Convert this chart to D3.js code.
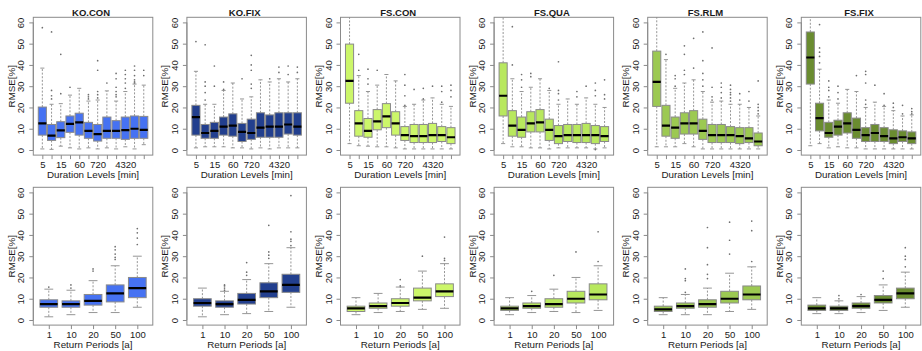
<!DOCTYPE html>
<html>
<head>
<meta charset="utf-8">
<script src="https://cdn.jsdelivr.net/npm/d3@7"></script>
<style>
  body { margin: 0; background: #fff; }
  svg { display: block; }
  text { font-family: "Liberation Sans", Arial, Helvetica, sans-serif; fill: #1a1a1a; }
</style>
</head>
<body>
<svg id="chart" width="922" height="351"></svg>
<script>
// Methods (one column each) and their box fills
const methods = ["KO.CON", "KO.FIX", "FS.CON", "FS.QUA", "FS.RLM", "FS.FIX"];
const methodColors = ["#4672f2", "#223f8e", "#ccf66a", "#b8e85e", "#9cc952", "#6a8c30"];

// Category axes
const durationLevels = ["5", "10", "15", "30", "60", "180", "720", "1440", "2880", "4320", "5760", "8640"];
const durationTickLabels = ["5", "15", "60", "720", "4320"];
const returnPeriods = ["1", "10", "20", "50", "100"];
const yTicks = [0, 10, 20, 30, 40, 50, 60];

// Box statistics per category: [lower whisker, Q1, median, Q3, upper whisker]
// and the outlying points, RMSE in %
const koConDur = [[0.5,7,12.5,20.2,38.5],[0.3,4.5,6.8,12,21.5],[1.8,5.8,9.2,13.3,21.8],[1,8.3,12.3,16,25.8],[0.5,7,13,17.3,29],[1,5.5,9,13,23],[0.5,4.2,7.5,12,23.5],[1,5.5,9,15.5,27.8],[0.5,5.5,9,13.8,23],[1.5,5,9.3,15.5,27.5],[0.5,5.5,10,16,31],[2.5,5.5,9.5,15.8,30.5]];
const koConDurOut = [[57.5],[24,25.5,28,55.5],[26.5,45],[29.5],[],[24,25,26],[24.5,26,27.5,37.5,42],[31.5],[25,26,27.5,29.5,33.5,36],[29,31.5,33.5,35.5,37.5],[31.5,32,33,35,37.5,39.5],[35,37.5]];

const koFixDur = [[1,7,15.5,21,37],[1.5,5.5,8,12,21.5],[1.5,5.5,9,13,21.5],[1.5,7,11,15.5,28],[1,6.5,11.5,17,31.5],[1,4,8.5,12.5,24],[0.5,5,8,14.5,25],[1,6,10.5,17.5,33],[0.5,6,11,16.5,32],[1,6,11,17.5,33.5],[1,7.5,12,17.5,32],[1,7,11,17.5,33.5]];
const koFixDurOut = [[51],[23.5,27,30,32,49.5],[30,39.5],[28.5,32],[],[33.5],[29,31,37.5,40,44.5],[],[33.5],[36.5,39],[35.5,39.5],[36.5,39]];

const fsConDur = [[3,22,32.5,49.8,66],[2,6.5,12.5,18.5,35],[1.8,6,9,14.8,27.5],[1.5,9.5,13.5,19,30.5],[1.5,10.5,15.8,21.8,35.5],[1,7,12.5,18,32.5],[0.5,4.5,7,11,20.5],[0.5,3.5,6.5,12,21.5],[0.5,3.5,6.5,12,23.5],[0.5,3.5,7,12.5,24.5],[0.5,4,7,11,21.5],[0.5,3,6,10.5,20.5]];
const fsConDurOut = [[],[37.5,45],[31,33.5,38],[37.5],[],[],[21,25.5,30.5,35.5],[28.5],[24,29],[30],[22.5,27.5,30],[25,28,30.5]];

const fsQuaDur = [[3,16,25.5,41,66],[1.5,6.5,11.5,18.5,33.5],[1.5,6,9.5,15.5,27.5],[1,8.5,12.5,18,29.5],[1,8.5,13,19,33.5],[0.5,4.5,9.5,14.5,28],[1,3,6.5,11.5,21.5],[1,4,7,12,24],[1,3.5,7,12,21.5],[1,3.5,7,12.5,24.5],[0.5,3,7,11.5,21.5],[1,4,6.5,11,20]];
const fsQuaDurOut = [[],[40,58],[29.5,33,35.5],[34.5,36],[],[29],[23.5,26.5,28,41.5],[],[25,27.5],[30],[0.2,25.5,28,31.5],[24,26,33]];

const fsRlmDur = [[1.5,20.5,32,46.5,66],[1.5,6.5,11.5,21,42.5],[1.5,5.5,10.5,15.5,29],[3,7.5,12.5,17.5,31.5],[1.5,7.5,12.5,18.5,33],[0.5,5,9,14.5,27.5],[0.5,3.5,7,12,22.5],[0.5,3.5,7,12,23],[0.5,3.5,7,11,21.5],[0.5,3,6.5,10.5,21.5],[0.5,3.5,5.5,10.5,20],[0.5,2,4,8,16]];
const fsRlmDurOut = [[],[45],[30,33.5,35],[35.5,37.5,45,49],[38.5,52.5],[30,33,36,42,55.5],[23.5,25,29.5,48],[24.5,27,29.5,31.5],[23,24.5,26,27,28.5,30.5],[23.5,26.5],[23,27.5],[17,18.5,20,21.5,32.5]];

const fsFixDur = [[2,31,43.5,55.5,66],[3,9,15,22,38],[1,6,8,13,23.5],[1.5,7,11,14,22],[1,8,12.5,17.5,28.5],[1,5.5,9.5,15,27.5],[0.5,4,7,10.5,20],[0.5,4,8,12,22.5],[0.5,4,6.5,10.5,20.5],[0.5,3,5.5,9.5,18.5],[0.5,4,6,9,16],[0.5,3,5.5,8.5,16.5]];
const fsFixDurOut = [[],[41,44,46,48,59],[25,28,29.5,32.5],[24,27,30],[],[35],[21.5,23.5,31.5,35.5,37],[30.5],[21,26.5],[20,22],[17,21],[17,18,19.5]];

const koConRp = [[1.5,6,7.5,9.5,14.5],[2.5,6,7.5,9,14],[3.5,7,9,12,18.5],[3.5,8.5,12.5,16.5,25.5],[6,10.5,15,20,30]];
const koConRpOut = [[15.5],[15,16.5],[23,24],[28.5,29.5,31,33,34.5],[35.5,38.5,41,43]];

const koFixRp = [[1.5,6.5,8,10,15],[2.5,6,7.5,9,13.5],[3,7.5,9.5,12.5,19],[4,10.5,13.5,17.5,26.5],[6,13,16.5,21.5,34]];
const koFixRpOut = [[],[14,15,16,16.5],[21,22.5,27],[29,30.5,32,44.5],[35,37,38,41.5,58.5]];

const fsConRp = [[2.5,4,5.5,6.5,10.5],[3.5,5.5,6.5,8,12.5],[4,6.5,8,10,15.5],[5,9,10.5,15,23],[5.5,11,13.5,17,26.5]];
const fsConRpOut = [[],[],[16,19],[30],[28,29,39]];

const fsQuaRp = [[2.5,4.5,5.5,6.5,10.5],[3.5,5.5,6.5,8,11.5],[4,6,7.5,10,14.5],[3.5,8,10,13.5,20],[4.5,9.5,12,17,25.5]];
const fsQuaRpOut = [[],[13.5],[21],[32],[27.5,41.5]];

const fsRlmRp = [[2.5,4,5,6.5,10.5],[2.5,5.5,6.5,8,12],[2.5,6,7.5,9.5,15],[4,8,10,13.5,22],[5,9.5,12,16,25]];
const fsRlmRpOut = [[],[13,18.5,19.5,24],[19.5,21.5,26,34,43.5],[31,37.5,46],[27.5,42,46.5]];

const fsFixRp = [[3,4.5,5.5,7,10.5],[3,4.5,5.5,6.5,9],[3.5,5.5,6.5,8,11],[4.5,8,9.5,11.5,16.5],[6,10,12.5,15,22.5]];
const fsFixRpOut = [[],[10,11.5],[12],[19.5,23],[25,28.5,30,34]];

const durationPanels = [
  [koConDur, koConDurOut], [koFixDur, koFixDurOut], [fsConDur, fsConDurOut],
  [fsQuaDur, fsQuaDurOut], [fsRlmDur, fsRlmDurOut], [fsFixDur, fsFixDurOut]
];
const returnPanels = [
  [koConRp, koConRpOut], [koFixRp, koFixRpOut], [fsConRp, fsConRpOut],
  [fsQuaRp, fsQuaRpOut], [fsRlmRp, fsRlmRpOut], [fsFixRp, fsFixRpOut]
];

// Layout
const panelStep = 153.6, frameLeft0 = 33.3, frameW = 119.5;
const rowTop = [17.3, 187.3], frameH = 137.8;
const gray = "#8a8a8a";
const fontFamily = "'Liberation Sans', Arial, sans-serif";

const svg = d3.select("#chart");
const defs = svg.append("defs");

function drawPanel(idx, row, categories, shownLabels, stats, outliers, color, xTitle, title, boxwex) {
  const left = frameLeft0 + panelStep * idx;
  const top = rowTop[row];
  const n = categories.length;
  const pad = 0.04 * n;
  const x = d3.scaleLinear().domain([0.5 - pad, n + 0.5 + pad]).range([left, left + frameW]);
  const y = d3.scaleLinear().domain([-2.4, 62.4]).range([top + frameH, top]);
  const bw = x(1 + boxwex / 2) - x(1); // half box width
  const clipId = `clip-${row}-${idx}`;
  defs.append("clipPath").attr("id", clipId)
    .append("rect").attr("x", left).attr("y", top).attr("width", frameW).attr("height", frameH);

  const g = svg.append("g");
  const plot = g.append("g").attr("clip-path", `url(#${clipId})`);

  stats.forEach((s, i) => {
    const cx = x(i + 1);
    const [lo, q1, med, q3, hi] = s;
    const bg = plot.append("g");
    // whiskers
    bg.append("line").attr("x1", cx).attr("x2", cx).attr("y1", y(q3)).attr("y2", y(hi))
      .attr("stroke", gray).attr("stroke-width", 0.9).attr("stroke-dasharray", "2,1.6");
    bg.append("line").attr("x1", cx).attr("x2", cx).attr("y1", y(q1)).attr("y2", y(lo))
      .attr("stroke", gray).attr("stroke-width", 0.9).attr("stroke-dasharray", "2,1.6");
    // staples
    [lo, hi].forEach(v => {
      bg.append("line").attr("x1", cx - bw * 0.5).attr("x2", cx + bw * 0.5)
        .attr("y1", y(v)).attr("y2", y(v)).attr("stroke", gray).attr("stroke-width", 0.9);
    });
    // box
    bg.append("rect").attr("x", cx - bw).attr("width", 2 * bw)
      .attr("y", y(q3)).attr("height", y(q1) - y(q3))
      .attr("fill", color).attr("stroke", gray).attr("stroke-width", 1);
    // median
    bg.append("line").attr("x1", cx - bw).attr("x2", cx + bw)
      .attr("y1", y(med)).attr("y2", y(med)).attr("stroke", "#000").attr("stroke-width", 2.2);
    // outliers
    outliers[i].forEach(v => {
      bg.append("circle").attr("cx", cx).attr("cy", y(v)).attr("r", 0.85).attr("fill", "#6f6f6f");
    });
  });

  // frame
  g.append("rect").attr("x", left).attr("y", top).attr("width", frameW).attr("height", frameH)
    .attr("fill", "none").attr("stroke", gray).attr("stroke-width", 1);

  // x axis
  const xAxis = d3.axisBottom(x)
    .tickValues(d3.range(1, n + 1))
    .tickSize(4).tickPadding(2)
    .tickFormat(d => shownLabels.includes(categories[d - 1]) ? categories[d - 1] : "");
  const xg = g.append("g").attr("transform", `translate(0,${top + frameH})`).call(xAxis);
  xg.select(".domain").remove();
  xg.selectAll(".tick line").attr("stroke", gray);
  xg.selectAll(".tick text").attr("font-size", 9.5).attr("fill", "#1a1a1a")
    .attr("font-family", fontFamily);

  // y axis (labels rotated like R's default las = 0)
  const yAxis = d3.axisLeft(y).tickValues(yTicks).tickSize(4).tickFormat(d3.format("d"));
  const yg = g.append("g").attr("transform", `translate(${left},0)`).call(yAxis);
  yg.select(".domain").attr("d", `M0,${y(0)}V${y(60)}`).attr("stroke", gray);
  yg.selectAll(".tick line").attr("stroke", gray);
  yg.selectAll(".tick text")
    .attr("font-size", 9.5).attr("fill", "#1a1a1a")
    .attr("font-family", fontFamily)
    .attr("x", null).attr("dy", null)
    .attr("text-anchor", "middle")
    .attr("transform", "translate(-9,0) rotate(-90)");

  // axis titles
  g.append("text").attr("transform", `translate(${left - 18.5},${top + frameH / 2}) rotate(-90)`)
    .attr("text-anchor", "middle").attr("font-size", 9.8).text("RMSE[%]");
  g.append("text").attr("x", left + frameW / 2).attr("y", top + frameH + 22.5)
    .attr("text-anchor", "middle").attr("font-size", 9.8).text(xTitle);

  if (title) {
    g.append("text").attr("x", left + frameW / 2 - 2).attr("y", top - 1.8)
      .attr("text-anchor", "middle").attr("font-size", 9.5).attr("font-weight", "bold").text(title);
  }
}

methods.forEach((m, i) => {
  drawPanel(i, 0, durationLevels, durationTickLabels, durationPanels[i][0], durationPanels[i][1],
    methodColors[i], "Duration Levels [min]", m, 0.88);
  drawPanel(i, 1, returnPeriods, returnPeriods, returnPanels[i][0], returnPanels[i][1],
    methodColors[i], "Return Periods [a]", null, 0.8);
});
</script>
</body>
</html>
